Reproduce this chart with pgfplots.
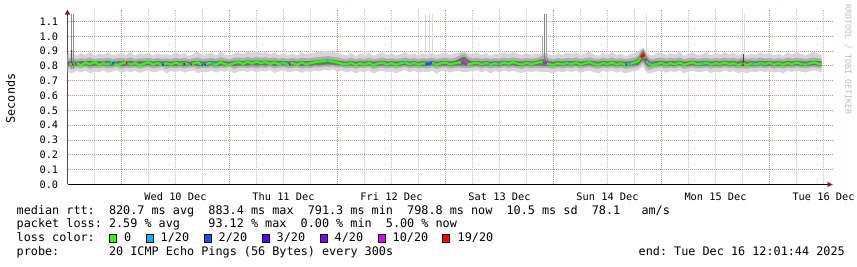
\documentclass[border=0pt]{standalone}
\usepackage{fontspec}
\setmainfont{DejaVu Sans Mono}
\usepackage{pgfplots}
\pgfplotsset{compat=1.18}
\usepackage{pgfplotstable}
\usepgfplotslibrary{fillbetween}
\usetikzlibrary{arrows.meta}

\definecolor{lc0}{HTML}{26FF00}
\definecolor{lc1}{HTML}{00B8FF}
\definecolor{lc2}{HTML}{0059FF}
\definecolor{lc3}{HTML}{5E00FF}
\definecolor{lc4}{HTML}{7E00FF}
\definecolor{lc10}{HTML}{DD00FF}
\definecolor{lc19}{HTML}{FF0000}
\definecolor{smokeA}{HTML}{D6D6D6}
\definecolor{smokeB}{HTML}{AEAEAE}
\definecolor{smokeC}{HTML}{707070}
\definecolor{gridred}{HTML}{E88888}
\definecolor{gridgray}{HTML}{C4C4C4}
\definecolor{arrowred}{HTML}{8B1A1A}
\definecolor{wmgray}{HTML}{BDBDBD}

\newcommand\legfont{\fontsize{11.8}{14}\selectfont}
\newcommand\tickfont{\fontsize{10.3}{12}\selectfont}

\pgfplotstableread{
x med
12 .820
13 .808
14 .817
15 .805
16 .822
17 .811
18 .826
19 .807
20 .818
21 .810
22 .824
23 .804
24 .816
25 .823
26 .809
27 .819
28 .803
29 .815
30 .825
31 .809
32 .821
33 .806
34 .818
35 .808
36 .823
37 .811
38 .820
39 .806
40 .817
41 .824
42 .804
43 .815
44 .821
45 .808
46 .825
47 .812
48 .807
49 .819
50 .826
51 .813
52 .828
53 .816
54 .830
55 .818
56 .827
57 .814
58 .824
59 .811
60 .822
61 .809
62 .820
63 .808
64 .824
65 .812
66 .819
67 .825
68 .829
69 .833
70 .836
71 .828
72 .823
73 .815
74 .810
75 .822
76 .806
77 .818
78 .809
79 .821
80 .805
81 .816
82 .823
83 .809
84 .819
85 .807
86 .817
87 .824
88 .811
89 .820
90 .808
91 .817
92 .811
93 .820
94 .807
95 .818
96 .823
97 .810
98 .817
99 .824
100 .819
101 .809
102 .817
103 .823
104 .811
105 .820
106 .807
107 .818
108 .811
109 .823
110 .814
111 .826
112 .816
113 .809
114 .821
115 .812
116 .819
117 .826
118 .822
119 .812
120 .807
121 .818
122 .810
123 .821
124 .812
125 .824
126 .808
127 .819
128 .825
129 .813
130 .807
131 .820
132 .811
133 .823
134 .809
135 .818
136 .806
137 .814
138 .822
138.8 .832
139.4 .858
139.9 .874
140.4 .852
140.9 .822
141.5 .809
142 .805
143 .814
144 .820
145 .808
146 .818
147 .811
148 .823
149 .806
150 .817
151 .824
152 .810
153 .816
154 .822
155 .808
156 .819
157 .811
158 .823
159 .812
160 .818
161 .807
162 .815
163 .806
164 .817
165 .810
166 .820
167 .812
168 .821
169 .809
170 .818
171 .807
172 .820
173 .811
174 .823
175 .814
176 .808
177 .818
178 .824
179 .813
179.6 .811
}\medtab

\pgfplotstableread{
x a b c d e f
12 .760 .786 .801 .831 .850 .880
13 .752 .782 .799 .834 .856 .892
14 .766 .790 .803 .829 .846 .871
15 .757 .784 .800 .833 .853 .886
16 .771 .792 .804 .830 .848 .875
17 .749 .780 .798 .835 .858 .895
18 .764 .788 .802 .828 .845 .868
19 .758 .785 .800 .832 .852 .883
20 .769 .791 .804 .830 .849 .877
21 .754 .783 .799 .834 .855 .890
22 .762 .787 .801 .829 .847 .872
23 .772 .793 .805 .831 .851 .881
24 .750 .781 .798 .833 .854 .887
25 .765 .789 .802 .830 .849 .874
26 .759 .786 .800 .835 .857 .893
27 .768 .790 .803 .828 .846 .869
28 .753 .782 .799 .832 .852 .884
29 .763 .788 .802 .831 .850 .878
30 .770 .792 .804 .834 .855 .889
31 .756 .784 .800 .829 .847 .871
32 .761 .787 .801 .833 .853 .885
33 .773 .794 .805 .830 .848 .876
34 .751 .781 .798 .832 .851 .882
35 .766 .789 .802 .829 .846 .870
36 .758 .785 .800 .834 .856 .891
37 .767 .790 .803 .831 .849 .877
38 .755 .783 .799 .833 .854 .886
39 .764 .788 .802 .828 .845 .867
40 .771 .792 .804 .832 .852 .883
41 .752 .782 .799 .835 .857 .894
42 .762 .787 .801 .829 .847 .873
43 .757 .785 .800 .831 .850 .879
44 .769 .791 .804 .834 .855 .888
45 .754 .783 .799 .830 .848 .872
46 .765 .789 .802 .836 .858 .896
47 .760 .786 .801 .831 .850 .878
48 .772 .793 .805 .829 .846 .869
49 .750 .781 .798 .833 .853 .884
50 .763 .788 .802 .836 .857 .893
51 .768 .790 .803 .832 .851 .880
52 .759 .786 .801 .838 .860 .897
53 .770 .792 .805 .834 .853 .885
54 .756 .785 .801 .839 .861 .899
55 .766 .790 .804 .835 .855 .887
56 .761 .787 .802 .837 .858 .892
57 .773 .794 .806 .833 .851 .879
58 .753 .783 .800 .836 .857 .890
59 .764 .789 .803 .831 .849 .874
60 .770 .792 .804 .834 .854 .886
61 .757 .784 .800 .830 .848 .871
62 .762 .788 .802 .833 .853 .884
63 .768 .790 .803 .829 .847 .870
64 .754 .783 .800 .835 .856 .891
65 .765 .789 .802 .831 .850 .878
66 .759 .786 .801 .833 .852 .883
67 .771 .793 .805 .836 .857 .890
68 .763 .790 .804 .839 .860 .896
69 .774 .796 .808 .842 .863 .899
70 .768 .794 .809 .845 .866 .902
71 .775 .797 .808 .840 .861 .894
72 .762 .789 .804 .836 .856 .888
73 .769 .792 .803 .831 .850 .877
74 .755 .784 .800 .829 .847 .871
75 .766 .789 .803 .834 .855 .889
76 .751 .781 .798 .828 .845 .868
77 .764 .788 .802 .832 .851 .882
78 .758 .785 .800 .830 .848 .874
79 .770 .792 .804 .833 .854 .887
80 .749 .780 .797 .829 .846 .869
81 .762 .787 .801 .831 .850 .880
82 .767 .790 .803 .835 .856 .892
83 .756 .784 .800 .830 .848 .873
84 .765 .789 .802 .832 .852 .884
85 .752 .782 .799 .829 .846 .870
86 .763 .788 .801 .831 .850 .879
87 .771 .793 .805 .835 .857 .893
88 .758 .785 .800 .830 .849 .876
89 .766 .790 .803 .833 .853 .886
90 .754 .783 .799 .828 .846 .871
91 .762 .787 .801 .832 .851 .881
92 .757 .785 .800 .830 .849 .877
93 .768 .791 .804 .834 .854 .888
94 .750 .781 .798 .829 .847 .872
95 .764 .788 .802 .832 .852 .883
96 .769 .791 .803 .835 .856 .891
97 .755 .784 .799 .830 .848 .874
98 .763 .788 .802 .833 .853 .885
99 .766 .789 .803 .846 .868 .890
99.6 .760 .787 .802 .858 .880 .893
100.3 .758 .786 .801 .862 .885 .895
101 .761 .787 .801 .842 .862 .884
102 .764 .788 .802 .831 .850 .879
103 .770 .792 .804 .834 .855 .889
104 .756 .784 .800 .830 .848 .873
105 .767 .790 .803 .833 .853 .886
106 .752 .782 .798 .829 .846 .870
107 .765 .789 .802 .832 .852 .883
108 .758 .785 .800 .830 .849 .876
109 .771 .793 .805 .835 .856 .892
110 .760 .786 .801 .831 .851 .880
111 .768 .791 .804 .836 .857 .894
112 .757 .785 .800 .832 .852 .884
113 .753 .782 .799 .829 .847 .872
114 .766 .790 .803 .834 .855 .889
115 .759 .786 .801 .830 .849 .877
116 .764 .788 .802 .833 .853 .885
117 .761 .787 .802 .842 .862 .880
117.7 .758 .786 .801 .848 .870 .886
118.4 .760 .787 .801 .846 .866 .884
119 .757 .785 .800 .831 .850 .878
120 .751 .781 .798 .829 .846 .869
121 .765 .789 .802 .833 .853 .886
122 .756 .784 .800 .830 .848 .873
123 .768 .791 .804 .834 .855 .890
124 .759 .786 .801 .831 .850 .879
125 .770 .792 .804 .835 .857 .893
126 .753 .782 .799 .829 .847 .871
127 .763 .788 .802 .833 .853 .884
128 .771 .793 .805 .836 .858 .895
129 .757 .785 .800 .831 .850 .877
130 .751 .781 .798 .829 .846 .868
131 .766 .790 .803 .834 .854 .888
132 .758 .785 .800 .830 .849 .875
133 .769 .792 .804 .835 .856 .891
134 .755 .783 .799 .830 .848 .873
135 .764 .789 .802 .832 .852 .883
136 .750 .780 .797 .828 .845 .867
137 .760 .786 .801 .831 .850 .878
138 .767 .790 .803 .836 .856 .889
138.8 .770 .793 .806 .850 .868 .895
139.4 .785 .808 .825 .880 .900 .912
139.9 .795 .820 .840 .905 .918 .925
140.4 .770 .795 .815 .878 .892 .905
140.9 .752 .776 .797 .845 .862 .888
141.5 .748 .775 .796 .830 .849 .874
142 .755 .782 .798 .829 .846 .871
143 .763 .788 .802 .833 .853 .884
144 .769 .791 .804 .835 .856 .890
145 .754 .783 .799 .830 .848 .873
146 .765 .789 .802 .833 .853 .886
147 .758 .785 .800 .831 .850 .877
148 .771 .793 .805 .836 .857 .894
149 .750 .781 .798 .828 .846 .869
150 .762 .787 .801 .832 .852 .882
151 .768 .791 .804 .835 .856 .891
152 .756 .784 .800 .830 .848 .874
153 .761 .787 .801 .832 .851 .880
154 .767 .790 .803 .834 .855 .889
155 .753 .782 .799 .829 .847 .871
156 .764 .789 .802 .833 .853 .885
157 .757 .785 .800 .830 .849 .876
158 .770 .792 .804 .835 .856 .892
159 .759 .786 .801 .831 .850 .879
160 .765 .789 .802 .833 .854 .887
161 .752 .782 .798 .829 .846 .870
162 .760 .786 .801 .838 .858 .884
163 .751 .781 .798 .829 .847 .872
164 .763 .788 .802 .832 .852 .883
165 .757 .785 .800 .830 .849 .876
166 .768 .791 .804 .834 .855 .890
167 .758 .785 .800 .831 .850 .878
168 .766 .790 .803 .833 .853 .886
169 .754 .783 .799 .829 .847 .871
170 .762 .787 .801 .832 .852 .883
171 .750 .781 .798 .828 .845 .868
172 .767 .790 .803 .834 .855 .889
173 .759 .786 .801 .830 .849 .877
174 .769 .792 .804 .835 .856 .892
175 .761 .787 .801 .832 .851 .881
176 .755 .784 .799 .829 .847 .872
177 .764 .789 .802 .833 .853 .885
178 .770 .792 .804 .836 .857 .893
179 .760 .786 .801 .831 .850 .879
179.6 .757 .785 .800 .830 .849 .875
}\smoketab

\begin{document}
\begin{tikzpicture}
\begin{axis}[
  at={(0pt,0pt)}, anchor=south west,
  scale only axis, width=765pt, height=174.9pt,
  xmin=12, xmax=182, ymin=0, ymax=1.18,
  axis x line=bottom, axis y line=left,
  x axis line style={black, line width=0.8pt, -{Triangle[length=5pt,width=5pt,color=arrowred]}},
  y axis line style={black!70, line width=0.8pt, -{Triangle[length=5pt,width=5pt,color=arrowred]}},
  xtick={24,48,72,96,120,144,168}, xticklabels={},
  minor xtick={18,30,36,42,54,60,66,78,84,90,102,108,114,126,132,138,150,156,162,174,180},
  extra x ticks={36,60,84,108,132,156,180},
  extra x tick labels={Wed 10 Dec,Thu 11 Dec,Fri 12 Dec,Sat 13 Dec,Sun 14 Dec,Mon 15 Dec,Tue 16 Dec},
  extra x tick style={grid=none},
  ytick={0,0.1,0.2,0.3,0.4,0.5,0.6,0.7,0.8,0.9,1.0,1.1},
  yticklabels={0.0,0.1,0.2,0.3,0.4,0.5,0.6,0.7,0.8,0.9,1.0,1.1},
  tick style={draw=none},
  xmajorgrids, xminorgrids, ymajorgrids,
  major x grid style={color=gridred, dash pattern=on 1pt off 1pt, line width=1pt},
  minor x grid style={color=gridgray, dash pattern=on 1pt off 1pt, line width=1pt},
  major y grid style={color=gridred, dash pattern=on 1pt off 1pt, line width=1pt},
  tick label style={font=\tickfont},
  xticklabel style={anchor=north, inner sep=0pt, yshift=-6pt},
  yticklabel style={anchor=east, inner sep=0pt, xshift=-7pt},
]
% smoke layers
\addplot[draw=none, name path=A] table[x=x,y=a]{\smoketab};
\addplot[draw=none, name path=B] table[x=x,y=b]{\smoketab};
\addplot[draw=none, name path=C] table[x=x,y=c]{\smoketab};
\addplot[draw=none, name path=D] table[x=x,y=d]{\smoketab};
\addplot[draw=none, name path=E] table[x=x,y=e]{\smoketab};
\addplot[draw=none, name path=F] table[x=x,y=f]{\smoketab};
\addplot[smokeA] fill between[of=F and A];
\addplot[smokeB] fill between[of=E and B];
\addplot[smokeC] fill between[of=D and C];
% outlier spikes
\addplot[color=black!45, line width=0.9pt] coordinates {(12.9,0.78) (12.9,1.15)};
\addplot[color=black!45, line width=0.9pt] coordinates {(13.35,0.78) (13.35,1.15)};
\addplot[color=black!65, line width=1.2pt] coordinates {(12.9,0.80) (12.9,0.905)};
\addplot[color=black!15, line width=1pt] coordinates {(91.57,0.86) (91.57,1.15)};
\addplot[color=black!15, line width=1pt] coordinates {(92.52,0.86) (92.52,1.15)};
\addplot[color=black!15, line width=1pt] coordinates {(93.03,0.86) (93.03,1.15)};
\addplot[color=black!35, line width=1pt] coordinates {(117.6,0.84) (117.6,1.0)};
\addplot[color=black!50, line width=1.4pt] coordinates {(117.95,0.83) (117.95,1.15)};
\addplot[color=black!40, line width=1pt] coordinates {(118.4,0.83) (118.4,1.15)};
\addplot[color=black!15, line width=1pt] coordinates {(140.6,0.90) (140.6,1.15)};
\addplot[color=black!15, line width=1pt] coordinates {(162.35,0.86) (162.35,1.15)};
\addplot[color=black!75, line width=1pt] coordinates {(162.2,0.80) (162.2,0.878)};
% median line
\addplot[lc0, line width=2.2pt] table[x=x,y=med]{\medtab};
% loss coloured pieces
\addplot[lc10, line width=2.2pt] coordinates {(12.0,0.820) (12.4,0.815)};
\addplot[lc19, line width=2.2pt] coordinates {(13.0,0.808) (13.3,0.811)};
\addplot[lc2, line width=2.2pt] coordinates {(13.7,0.814) (14.0,0.817)};
\addplot[lc1, line width=2.2pt] coordinates {(21.3,0.814) (21.7,0.820)};
\addplot[lc2, line width=2.2pt] coordinates {(22.0,0.824) (22.4,0.816)};
\addplot[lc19, line width=2.2pt] coordinates {(25.0,0.823) (25.3,0.819)};
\addplot[lc2, line width=2.2pt] coordinates {(33.0,0.806) (33.4,0.811)};
\addplot[lc3, line width=2.2pt] coordinates {(37.8,0.813) (38.1,0.815)};
\addplot[lc1, line width=2.2pt] coordinates {(38.7,0.810) (39.0,0.806)};
\addplot[lc19, line width=2.2pt] coordinates {(39.3,0.809) (39.6,0.813)};
\addplot[lc2, line width=2.2pt] coordinates {(41.8,0.809) (42.1,0.804)};
\addplot[lc3, line width=2.2pt] coordinates {(42.4,0.808) (42.7,0.811)};
\addplot[lc1, line width=2.2pt] coordinates {(44.0,0.821) (44.4,0.816)};
\addplot[lc1, line width=2.2pt] coordinates {(59.5,0.816) (59.8,0.813)};
\addplot[lc4, line width=2.2pt] coordinates {(61.2,0.811) (61.5,0.815)};
\addplot[lc1, line width=2.2pt] coordinates {(69.6,0.835) (69.9,0.836)};
\addplot[lc1, line width=2.2pt] coordinates {(86.7,0.821) (87.0,0.824)};
\addplot[lc2, line width=2.2pt] coordinates {(91.5,0.814) (92.0,0.811) (92.5,0.815) (93.0,0.820)};
\addplot[lc10, line width=2.2pt] coordinates {(99.5,0.822) (100.0,0.819) (100.8,0.812)};
\addplot[lc1, line width=2.2pt] coordinates {(105.5,0.813) (105.8,0.809)};
\addplot[lc1, line width=2.2pt] coordinates {(107.7,0.813) (108.0,0.811)};
\addplot[lc10, line width=2.2pt] coordinates {(117.6,0.824) (118.0,0.822) (118.5,0.818)};
\addplot[lc1, line width=2.2pt] coordinates {(123.2,0.819) (123.5,0.816)};
\addplot[lc2, line width=2.2pt] coordinates {(136.0,0.806) (136.4,0.809)};
\addplot[lc1, line width=2.2pt] coordinates {(136.9,0.813) (137.2,0.816)};
\addplot[lc19, line width=2.2pt] coordinates {(139.4,0.858) (139.9,0.874) (140.2,0.861)};
\addplot[lc10, line width=2.2pt] coordinates {(140.4,0.852) (140.7,0.834)};
\addplot[lc1, line width=2.2pt] coordinates {(140.9,0.822) (141.2,0.816)};
\addplot[lc1, line width=2.2pt] coordinates {(153.0,0.816) (153.3,0.818)};
\addplot[lc19, line width=2.2pt] coordinates {(161.9,0.808) (162.2,0.811)};
\addplot[lc1, line width=2.2pt] coordinates {(164.1,0.817) (164.4,0.815)};
\addplot[lc1, line width=2.2pt] coordinates {(165.9,0.811) (166.2,0.813)};
\end{axis}

% y label and watermark
\node[rotate=90, font=\legfont, inner sep=0pt] at (-57pt,86pt) {Seconds};
\node[rotate=-90, font=\fontsize{8.3}{10}\selectfont, color=wmgray, inner sep=0pt] at (780.5pt,125pt) {RRDTOOL / TOBI OETIKER};

% legend text (monospaced columns, 7.1pt per character)
\begin{scope}[every node/.style={anchor=base west, inner sep=0pt, font=\legfont}]
\node at (-51pt,-30pt) {median rtt:};
\node at (41.3pt,-30pt) {820.7~ms~avg};
\node at (140.7pt,-30pt) {883.4~ms~max};
\node at (240.1pt,-30pt) {791.3~ms~min};
\node at (339.5pt,-30pt) {798.8~ms~now};
\node at (438.9pt,-30pt) {10.5~ms~sd};
\node at (524.1pt,-30pt) {78.1};
\node at (573.8pt,-30pt) {am/s};
\node at (-51pt,-43.5pt) {packet loss:};
\node at (41.3pt,-43.5pt) {2.59~\%~avg};
\node at (140.7pt,-43.5pt) {93.12~\%~max};
\node at (233pt,-43.5pt) {0.00~\%~min};
\node at (318.2pt,-43.5pt) {5.00~\%~now};
\node at (-51pt,-57.5pt) {loss color:};
\node at (56.3pt,-57.5pt) {0};
\node at (93pt,-57.5pt) {1/20};
\node at (151pt,-57.5pt) {2/20};
\node at (209pt,-57.5pt) {3/20};
\node at (267pt,-57.5pt) {4/20};
\node at (325pt,-57.5pt) {10/20};
\node at (390pt,-57.5pt) {19/20};
\node at (-51pt,-71.5pt) {probe:};
\node at (41.3pt,-71.5pt) {20~ICMP~Echo~Pings~(56~Bytes)~every~300s};
\node at (571pt,-71.5pt) {end:~Tue~Dec~16~12:01:44~2025};
\end{scope}

% loss colour boxes
\draw[black, line width=0.7pt, fill=lc0]  (41.7pt,-49.5pt) rectangle ++(7.3pt,-8pt);
\draw[black, line width=0.7pt, fill=lc1]  (78.7pt,-49.5pt) rectangle ++(7.3pt,-8pt);
\draw[black, line width=0.7pt, fill=lc2]  (137pt,-49.5pt) rectangle ++(7.3pt,-8pt);
\draw[black, line width=0.7pt, fill=lc3]  (195pt,-49.5pt) rectangle ++(7.3pt,-8pt);
\draw[black, line width=0.7pt, fill=lc4]  (253pt,-49.5pt) rectangle ++(7.3pt,-8pt);
\draw[black, line width=0.7pt, fill=lc10] (310.7pt,-49.5pt) rectangle ++(7.3pt,-8pt);
\draw[black, line width=0.7pt, fill=lc19] (375pt,-49.5pt) rectangle ++(7.3pt,-8pt);

\pgfresetboundingbox
\useasboundingbox (-67.5pt,-82.5pt) rectangle (789.5pt,184.5pt);
\end{tikzpicture}
\end{document}
